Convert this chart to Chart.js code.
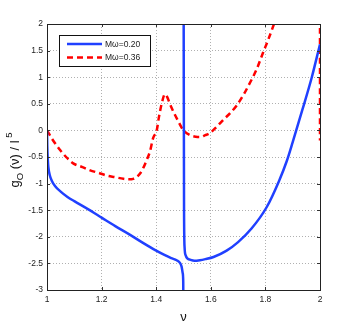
<!DOCTYPE html>
<html><head><meta charset="utf-8">
<script src="https://cdn.jsdelivr.net/npm/chart.js@4.4.1/dist/chart.umd.min.js"></script>
<style>html,body{margin:0;padding:0;background:#fff}#wrap{width:354px;height:327px}</style>
</head><body><div id="wrap"><canvas id="c" width="354" height="327"></canvas></div>
<script>
// Series: Mω=0.20 (blue, solid) – two branches separated by the pole at ν=1.5 (null = break)
const nuBlue = [1.000,1.001,1.003,1.005,1.010,1.017,1.030,1.050,1.075,1.100,1.150,1.200,1.250,1.300,1.350,1.400,1.430,1.455,1.475,1.487,1.493,1.497,1.499,1.4995,
  null,
  1.5005,1.502,1.504,1.508,1.515,1.524,1.540,1.560,1.580,1.610,1.658,1.700,1.750,1.805,1.850,1.878,1.900,1.935,1.970,2.000];
const gBlue = [0,-0.30,-0.55,-0.69,-0.84,-0.94,-1.05,-1.15,-1.25,-1.33,-1.48,-1.64,-1.80,-1.95,-2.11,-2.26,-2.34,-2.40,-2.44,-2.49,-2.56,-2.68,-2.85,-3.3,
  null,
  2.5,-1.5,-2.2,-2.35,-2.41,-2.43,-2.45,-2.44,-2.42,-2.38,-2.26,-2.10,-1.84,-1.44,-0.95,-0.58,-0.22,0.38,1.00,1.62];
// Series: Mω=0.36 (red, dashed)
const nuRed = [1.000,1.020,1.048,1.070,1.096,1.130,1.158,1.190,1.219,1.250,1.280,1.300,1.316,1.330,1.341,1.355,1.365,1.377,1.389,1.402,1.410,1.420,1.432,1.440,1.450,1.465,1.481,1.500,1.524,1.545,1.560,1.580,1.597,1.620,1.650,1.670,1.695,1.720,1.744,1.768,1.792,1.810,1.830,1.850,
  null, 2.000, 2.000];
const gRed = [0,-0.17,-0.37,-0.50,-0.62,-0.69,-0.75,-0.80,-0.85,-0.88,-0.91,-0.92,-0.91,-0.87,-0.81,-0.68,-0.56,-0.40,-0.14,0.00,0.25,0.50,0.68,0.63,0.50,0.33,0.17,0.00,-0.09,-0.12,-0.125,-0.09,-0.05,0.06,0.22,0.32,0.47,0.67,0.90,1.15,1.47,1.70,1.98,2.30,
  null, 2.3, -0.19];
const seriesLabels = ['M\u03c9=0.20', 'M\u03c9=0.36'];
const xTicks = [1, 1.2, 1.4, 1.6, 1.8, 2];
const yTicks = [2, 1.5, 1, 0.5, 0, -0.5, -1, -1.5, -2, -2.5, -3];

const toPts = (xs, ys) => xs.map((x, i) => ({x: x === null ? NaN : x, y: ys[i] === null ? NaN : ys[i]}));
const BLUE = '#2040ff', RED = '#ff0000';
const FONT = "'Liberation Sans', Arial, sans-serif";

const decor = {
  id: 'decor',
  afterDraw(chart) {
    const ctx = chart.ctx, a = chart.chartArea, xs = chart.scales.x, ys = chart.scales.y;
    ctx.save();
    // inward tick marks
    ctx.strokeStyle = '#333'; ctx.lineWidth = 1;
    ctx.beginPath();
    xTicks.forEach(v => { const p = Math.round(xs.getPixelForValue(v)) + 0.5;
      ctx.moveTo(p, a.bottom); ctx.lineTo(p, a.bottom - 3); ctx.moveTo(p, a.top); ctx.lineTo(p, a.top + 3); });
    yTicks.forEach(v => { const p = Math.round(ys.getPixelForValue(v)) + 0.5;
      ctx.moveTo(a.left, p); ctx.lineTo(a.left + 3, p); ctx.moveTo(a.right, p); ctx.lineTo(a.right - 3, p); });
    ctx.stroke();
    // axes box
    ctx.strokeStyle = '#222';
    ctx.strokeRect(Math.round(a.left) + 0.5, Math.round(a.top) + 0.5, Math.round(a.right - a.left), Math.round(a.bottom - a.top));
    // legend
    const lx = 59.5, ly = 35.5, lw = 91, lh = 31;
    ctx.fillStyle = '#fff'; ctx.fillRect(lx, ly, lw, lh);
    ctx.strokeStyle = '#111'; ctx.lineWidth = 1; ctx.strokeRect(lx, ly, lw, lh);
    ctx.lineWidth = 2.5;
    ctx.strokeStyle = BLUE; ctx.setLineDash([]);
    ctx.beginPath(); ctx.moveTo(67, 44); ctx.lineTo(102, 44); ctx.stroke();
    ctx.strokeStyle = RED; ctx.setLineDash([6, 4]);
    ctx.beginPath(); ctx.moveTo(67, 57.5); ctx.lineTo(102, 57.5); ctx.stroke();
    ctx.setLineDash([]);
    ctx.fillStyle = '#222'; ctx.font = '8.5px ' + FONT; ctx.textBaseline = 'middle'; ctx.textAlign = 'left';
    ctx.fillText(seriesLabels[0], 105, 44.5);
    ctx.fillText(seriesLabels[1], 105, 58);
    // y-axis label: g_O(ν) / l^5 rotated
    ctx.translate(19, 160); ctx.rotate(-Math.PI / 2);
    const big = '13px ' + FONT, small = '9.5px ' + FONT;
    const parts = [['g', big, 0], ['O', small, 3.5], [' (\u03bd) / l', big, 0], [' 5', small, -7]];
    let total = 0;
    parts.forEach(p => { ctx.font = p[1]; total += ctx.measureText(p[0]).width; });
    let x = -total / 2;
    ctx.textBaseline = 'alphabetic'; ctx.fillStyle = '#111';
    parts.forEach(p => { ctx.font = p[1]; ctx.fillText(p[0], x, p[2]); x += ctx.measureText(p[0]).width; });
    ctx.restore();
  }
};

new Chart(document.getElementById('c'), {
  type: 'line',
  data: {
    datasets: [
      {label: seriesLabels[0], data: toPts(nuBlue, gBlue), borderColor: BLUE, borderWidth: 2.5, pointRadius: 0, cubicInterpolationMode: 'monotone', spanGaps: false, fill: false},
      {label: seriesLabels[1], data: toPts(nuRed, gRed), borderColor: RED, borderWidth: 2.5, borderDash: [6, 4], pointRadius: 0, cubicInterpolationMode: 'monotone', spanGaps: false, fill: false}
    ]
  },
  options: {
    responsive: false, animation: false, devicePixelRatio: 1,
    layout: {padding: {left: 0, right: 34, top: 24, bottom: 0}},
    plugins: {legend: {display: false}, tooltip: {enabled: false}},
    scales: {
      x: {
        type: 'linear', min: 1, max: 2,
        afterFit: s => { s.height = 37; },
        afterBuildTicks: s => { s.ticks = xTicks.map(v => ({value: v})); },
        ticks: {color: '#222', font: {family: FONT, size: 8.5}, padding: 5, maxRotation: 0, callback: v => String(v)},
        grid: {color: '#b0b0b0', lineWidth: 1, drawTicks: false, borderDash: [1, 2]},
        border: {display: false, dash: [1, 2]},
        title: {display: true, text: '\u03bd', color: '#111', font: {family: FONT, size: 13}, padding: {top: 0, bottom: 2}}
      },
      y: {
        type: 'linear', min: -3, max: 2,
        afterFit: s => { s.width = 47; },
        afterBuildTicks: s => { s.ticks = yTicks.slice().reverse().map(v => ({value: v})); },
        ticks: {color: '#222', font: {family: FONT, size: 8.5}, padding: 4, callback: v => String(v)},
        grid: {color: '#b0b0b0', lineWidth: 1, drawTicks: false, borderDash: [1, 2]},
        border: {display: false, dash: [1, 2]}
      }
    }
  },
  plugins: [decor]
});
</script></body></html>
